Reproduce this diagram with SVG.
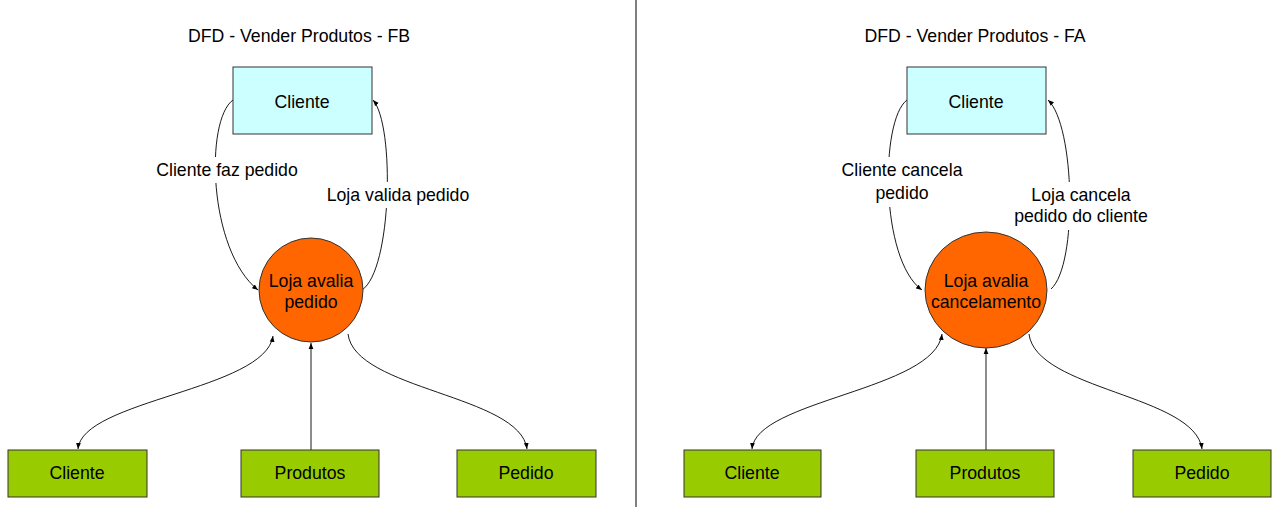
<svg xmlns="http://www.w3.org/2000/svg" width="1280" height="511" viewBox="0 0 1280 511">
<defs>
<style>
text{font-family:"Liberation Sans",Arial,sans-serif;font-size:17.7px;fill:#000;text-anchor:middle}
.ent{fill:#ccffff;stroke:#333;stroke-width:1}
.proc{fill:#ff6600;stroke:#333;stroke-width:1}
.store{fill:#99cc00;stroke:#333;stroke-width:1}
.ln{fill:none;stroke:#000;stroke-width:0.9}
.bg{fill:#fff}
</style>
<marker id="ah" viewBox="0 0 10 10" refX="10" refY="5" markerWidth="6" markerHeight="6" markerUnits="userSpaceOnUse" orient="auto-start-reverse">
<path d="M0 1 L10 5 L0 9 Z" fill="#000"/>
</marker>
</defs>
<rect width="1280" height="511" fill="#fff"/>
<line x1="636" y1="0" x2="636" y2="507" stroke="#000" stroke-width="1"/>
<text x="299" y="42">DFD - Vender Produtos - FB</text>
<text x="975" y="42">DFD - Vender Produtos - FA</text>

<g id="connectors">
<path class="ln" d="M233 100 C205 120 208 250 258 290" marker-end="url(#ah)"/>
<path class="ln" d="M362 290 C392 270 395 125 373 100" marker-end="url(#ah)"/>
<path class="ln" d="M78 449 C82 400 265 390 273 336" marker-start="url(#ah)" marker-end="url(#ah)"/>
<path class="ln" d="M311 450 L311 343" marker-end="url(#ah)"/>
<path class="ln" d="M348 334 C355 390 520 395 527 449" marker-end="url(#ah)"/>

<path class="ln" d="M907 100 C880 120 880 260 922 290" marker-end="url(#ah)"/>
<path class="ln" d="M1051 289 C1078 265 1075 125 1048 100" marker-end="url(#ah)"/>
<path class="ln" d="M752 449 C756 400 935 390 942 334" marker-start="url(#ah)" marker-end="url(#ah)"/>
<path class="ln" d="M986 450 L986 348" marker-end="url(#ah)"/>
<path class="ln" d="M1029 334 C1036 390 1195 395 1202 449" marker-end="url(#ah)"/>

<rect class="bg" x="150" y="157" width="154" height="26"/>
<text x="227" y="176">Cliente faz pedido</text>
<rect class="bg" x="322" y="182" width="153" height="26"/>
<text x="398" y="201">Loja valida pedido</text>
<rect class="bg" x="836" y="157" width="132" height="50"/>
<text x="902" y="176">Cliente cancela</text>
<text x="902" y="199">pedido</text>
<rect class="bg" x="1008" y="182" width="146" height="48"/>
<text x="1081" y="201">Loja cancela</text>
<text x="1081" y="222">pedido do cliente</text>
</g>

<g id="fb-cliente-top"><rect class="ent" x="233" y="67" width="139" height="67"/><text x="302" y="108">Cliente</text></g>
<g id="fb-processo"><circle class="proc" cx="311" cy="290" r="52"/><text x="311" y="287">Loja avalia</text><text x="311" y="308">pedido</text></g>
<g id="fb-cliente"><rect class="store" x="8" y="450" width="139" height="47"/><text x="77" y="479">Cliente</text></g>
<g id="fb-produtos"><rect class="store" x="241" y="450" width="138" height="47"/><text x="310" y="479">Produtos</text></g>
<g id="fb-pedido"><rect class="store" x="457" y="450" width="139" height="47"/><text x="526" y="479">Pedido</text></g>

<g id="fa-cliente-top"><rect class="ent" x="907" y="67" width="139" height="67"/><text x="976" y="108">Cliente</text></g>
<g id="fa-processo"><ellipse class="proc" cx="986" cy="290" rx="61" ry="58"/><text x="986" y="287">Loja avalia</text><text x="986" y="308">cancelamento</text></g>
<g id="fa-cliente"><rect class="store" x="684" y="450" width="137" height="47"/><text x="752" y="479">Cliente</text></g>
<g id="fa-produtos"><rect class="store" x="916" y="450" width="138" height="47"/><text x="985" y="479">Produtos</text></g>
<g id="fa-pedido"><rect class="store" x="1133" y="450" width="138" height="47"/><text x="1202" y="479">Pedido</text></g>
</svg>
